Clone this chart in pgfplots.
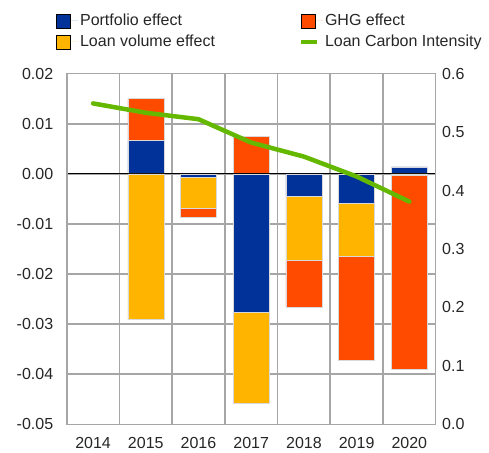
\documentclass[border=0pt]{standalone}
\usepackage{fontspec}
\setmainfont{Liberation Sans}
\usepackage{pgfplots}
\pgfplotsset{compat=1.18}
\definecolor{ecbblue}{HTML}{003299}
\definecolor{ecbred}{HTML}{FF4B00}
\definecolor{ecbyellow}{HTML}{FFB400}
\definecolor{ecbgreen}{HTML}{65B800}
\definecolor{txt}{HTML}{262626}
\pgfplotsset{
  sqleg/.style={legend image code/.code={\fill[##1] (0pt,-7pt) rectangle (14pt,7pt); \path[draw=none] (0pt,0pt) -- (22pt,0pt);}},
  lineleg/.style={legend image code/.code={\draw[##1, line width=4pt] (0pt,0pt) -- (16pt,0pt); \path[draw=none] (0pt,0pt) -- (22pt,0pt);}},
  common/.style={
    scale only axis, width=369pt, height=350.7pt,
    at={(0,0)}, anchor=south west,
    xmin=-0.5, xmax=6.5,
    major tick length=0pt, minor tick length=0pt,
    axis line style={draw=black!35, line width=1.6pt},
    tick label style={font=\fontsize{16}{19}\selectfont, text=txt},
  },
  barst/.style={draw=black!15, line width=0.5pt, fill=#1, forget plot},
}
\begin{document}
\begin{tikzpicture}[font=\fontsize{16}{19}\selectfont]
\begin{axis}[common,
  ymin=-0.05, ymax=0.02,
  ybar stacked, bar width=36pt,
  xtick={0,1,2,3,4,5,6},
  xticklabels={2014,2015,2016,2017,2018,2019,2020},
  xticklabel style={yshift=-9pt},
  minor xtick={-0.5,0.5,1.5,2.5,3.5,4.5,5.5,6.5},
  xmajorgrids=false, xminorgrids=true, ymajorgrids=true,
  major grid style={draw=black!35, line width=1.6pt},
  minor grid style={draw=black!35, line width=1.6pt},
  ytick={-0.05,-0.04,-0.03,-0.02,-0.01,0,0.01,0.02},
  scaled y ticks=false,
  yticklabel style={xshift=-10pt, /pgf/number format/.cd, fixed, fixed zerofill, precision=2, assume math mode=true},
  legend columns=2,
  legend cell align=left,
  legend style={draw=none, fill=none, at={(0,1)}, anchor=south west,
    xshift=-14pt, yshift=21pt, font=\fontsize{16}{19}\selectfont, text=txt,
    /tikz/column 2/.style={column sep=82pt},
    row sep=4pt},
]
% positive parts (stacked upwards from zero)
\addplot[barst=ecbblue] coordinates {(0,0) (1,0.0066) (2,0) (3,0) (4,0) (5,0) (6,0.0014)};
\addplot[barst=ecbred] coordinates {(0,0) (1,0.0084) (2,0) (3,0.0075) (4,0) (5,0) (6,0)};
\addlegendimage{sqleg, fill=ecbblue}
\addlegendentry{Portfolio effect}
\addlegendimage{sqleg, fill=ecbred}
\addlegendentry{GHG effect}
\addlegendimage{sqleg, fill=ecbyellow}
\addlegendentry{Loan volume effect}
\addlegendimage{lineleg, draw=ecbgreen}
\addlegendentry{Loan Carbon Intensity}
\end{axis}
\begin{axis}[common,
  ymin=-0.05, ymax=0.02,
  ybar stacked, bar width=36pt,
  hide axis,
]
% negative parts (stacked downwards from zero)
\addplot[barst=ecbblue] coordinates {(0,0) (1,0) (2,-0.0007) (3,-0.0276) (4,-0.0045) (5,-0.0058) (6,0)};
\addplot[barst=ecbyellow] coordinates {(0,0) (1,-0.0291) (2,-0.0061) (3,-0.0182) (4,-0.0128) (5,-0.0107) (6,-0.0003)};
\addplot[barst=ecbred] coordinates {(0,0) (1,0) (2,-0.0018) (3,0) (4,-0.0093) (5,-0.0208) (6,-0.0388)};
\draw[black, line width=1pt] (axis cs:-0.5,0) -- (axis cs:6.5,0);
\end{axis}
\begin{axis}[common,
  ymin=0, ymax=0.6,
  hide x axis,
  ytick={0,0.1,0.2,0.3,0.4,0.5,0.6},
  ytick pos=right, yticklabel pos=right,
  yticklabel style={xshift=3pt, /pgf/number format/.cd, fixed, fixed zerofill, precision=1, assume math mode=true},
]
\addplot[ecbgreen, line width=4.5pt, line cap=round, line join=round, mark=none]
  coordinates {(0,0.549) (1,0.533) (2,0.522) (3,0.482) (4,0.458) (5,0.424) (6,0.381)};
\end{axis}
\pgfresetboundingbox
\path[use as bounding box] (-66.7pt,-28pt) rectangle (422.3pt,424.3pt);
\end{tikzpicture}
\end{document}
